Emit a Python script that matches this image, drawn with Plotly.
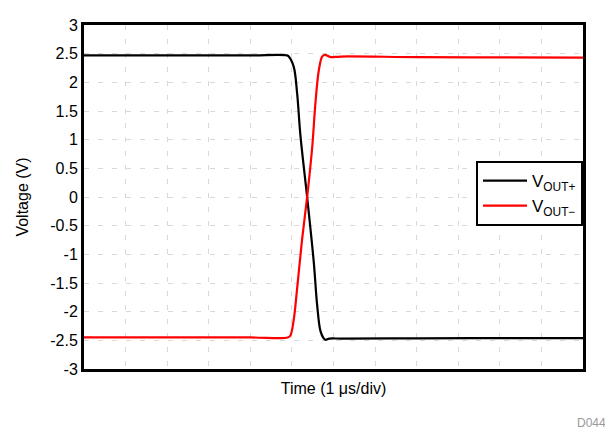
import plotly.graph_objects as go

# time in microseconds (1 µs per division, 12 divisions)
time_pos = [0, 2, 4, 4.88, 4.924, 5.044, 5.125, 5.205, 5.366, 5.526, 5.606, 5.687, 5.76, 5.807, 5.9, 6.2, 8, 10, 12]
vout_pos = [2.47, 2.47, 2.47, 2.47, 2.45, 2.27, 1.81, 1.07, 0.0, -1.14, -1.88, -2.34, -2.46, -2.49, -2.47, -2.47, -2.465, -2.46, -2.46]

time_neg = [0, 2, 4, 4.9, 4.96, 5.04, 5.125, 5.245, 5.366, 5.486, 5.566, 5.647, 5.727, 5.79, 5.93, 6.17, 8, 10, 12]
vout_neg = [-2.45, -2.45, -2.45, -2.45, -2.42, -2.16, -1.60, -0.74, 0.0, 0.85, 1.64, 2.21, 2.45, 2.48, 2.44, 2.45, 2.44, 2.435, 2.43]

y_ticks = [3, 2.5, 2, 1.5, 1, 0.5, 0, -0.5, -1, -1.5, -2, -2.5, -3]
y_tick_labels = ["3", "2.5", "2", "1.5", "1", "0.5", "0", "-0.5", "-1", "-1.5", "-2", "-2.5", "-3"]
x_grid = list(range(0, 13))

font = "Liberation Sans, Arial, sans-serif"

fig = go.Figure()
fig.add_trace(go.Scatter(x=time_pos, y=vout_pos, mode="lines", name="V<sub>OUT+</sub>",
                         line=dict(color="black", width=2.2), line_shape="spline"))
fig.add_trace(go.Scatter(x=time_neg, y=vout_neg, mode="lines", name="V<sub>OUT−</sub>",
                         line=dict(color="#ff0000", width=2.2), line_shape="spline"))

fig.update_layout(
    width=605, height=422,
    margin=dict(l=76, r=30, t=9, b=61),
    paper_bgcolor="white", plot_bgcolor="white",
    font=dict(family=font, size=16, color="black"),
    showlegend=True,
    legend=dict(x=1, xanchor="right", y=0.51, yanchor="middle",
                bordercolor="black", borderwidth=2, bgcolor="white",
                font=dict(size=17), tracegroupgap=0, itemwidth=44),
    xaxis=dict(range=[0, 12], tickvals=x_grid, showticklabels=False, ticks="",
               showgrid=True, gridcolor="#d9d9d9", griddash="5px,9px", gridwidth=1,
               showline=True, linecolor="black", linewidth=3, mirror=True, zeroline=False,
               title=dict(text="Time (1 μs/div)", font=dict(size=16), standoff=12)),
    yaxis=dict(range=[-3, 3], tickvals=y_ticks, ticktext=y_tick_labels, ticks="",
               showgrid=True, gridcolor="#d9d9d9", griddash="5px,9px", gridwidth=1,
               showline=True, linecolor="black", linewidth=3, mirror=True, zeroline=False,
               tickfont=dict(size=16),
               title=dict(text="Voltage (V)", font=dict(size=16), standoff=18)),
)

fig.add_annotation(text="D044", xref="paper", yref="paper", x=1.05, y=-0.156,
                   xanchor="right", yanchor="middle", showarrow=False,
                   font=dict(size=12, color="#999999"))

fig.write_html("out.html")
